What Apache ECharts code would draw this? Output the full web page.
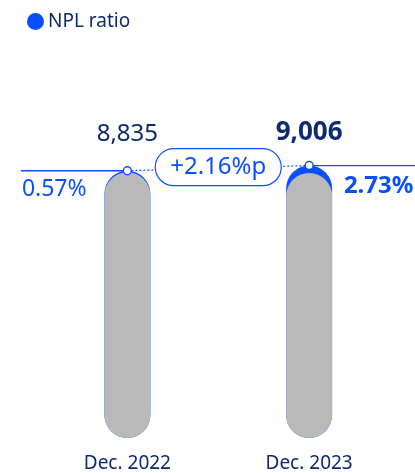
<!DOCTYPE html>
<html><head><meta charset="utf-8">
<script src="https://cdn.jsdelivr.net/npm/echarts@6/dist/echarts.min.js"></script>
<style>html,body{margin:0;padding:0;background:#fff}#c{width:415px;height:473px}</style>
</head><body><div id="c"></div>
<script>
const categories = ['Dec. 2022', 'Dec. 2023'];
const totals = [8835, 9006];
const nplRatio = [0.57, 2.73];
const totalLabels = ['8,835', '9,006'];
const ratioLabels = ['0.57%', '2.73%'];
const changeLabel = '+2.16%p';

const BLUE = '#0a4fff', NAVY = '#0d2a6e', GRAY = '#b9b9b9';
const FONT = '"Noto Sans", sans-serif';
const grayVals = totals.map((t, i) => t * (1 - nplRatio[i] / 100));

const chart = echarts.init(document.getElementById('c'));
chart.setOption({
  animation: false,
  textStyle: { fontFamily: FONT },
  legend: {
    left: 22, top: 7, itemWidth: 15, itemHeight: 15, icon: 'circle',
    textStyle: { fontSize: 19, color: NAVY, fontFamily: FONT },
    data: [{ name: 'NPL ratio', itemStyle: { color: BLUE } }]
  },
  grid: { left: 36.5, right: 15, top: 75, bottom: 35 },
  xAxis: {
    type: 'category', data: categories,
    axisLine: { show: false }, axisTick: { show: false },
    axisLabel: { fontSize: 19, color: NAVY, margin: 16, fontFamily: FONT }
  },
  yAxis: { type: 'value', min: 0, max: 12000, show: false },
  series: [
    {
      type: 'bar', name: 'Total', barWidth: 46,
      itemStyle: { color: BLUE, borderRadius: 23 },
      data: totals.map((v, i) => ({
        value: v,
        label: i === 1 ? { fontWeight: 'bold', fontSize: 26, distance: 20 } : { fontWeight: 'normal', fontSize: 24, distance: 25 }
      })),
      label: {
        show: true, position: 'top', color: NAVY, fontFamily: FONT,
        formatter: p => totalLabels[p.dataIndex]
      }
    },
    {
      type: 'bar', name: 'Gray', barWidth: 46, barGap: '-100%',
      itemStyle: { color: GRAY, borderRadius: 23 },
      data: grayVals
    },
    {
      type: 'line', name: 'NPL ratio', symbol: 'circle', symbolSize: 8,
      itemStyle: { color: '#fff', borderColor: BLUE, borderWidth: 1.5 },
      lineStyle: { color: BLUE, width: 1.2, type: [2, 2] },
      data: totals.map((v, i) => ({
        value: v,
        label: i === 0
          ? { position: 'left', distance: 36, offset: [0, 19], fontWeight: 'normal', fontSize: 23 }
          : { position: 'right', distance: 30, offset: [0, 21], fontWeight: 'bold', fontSize: 24 }
      })),
      label: {
        show: true, color: BLUE, fontFamily: FONT,
        formatter: p => ratioLabels[p.dataIndex]
      },
      z: 5
    }
  ]
});

const p1 = chart.convertToPixel({ seriesIndex: 2 }, [0, totals[0]]);
const p2 = chart.convertToPixel({ seriesIndex: 2 }, [1, totals[1]]);
const mx = (p1[0] + p2[0]) / 2, my = (p1[1] + p2[1]) / 2;
chart.setOption({
  graphic: [
    { type: 'line', z: 1, shape: { x1: 21, y1: p1[1], x2: p1[0], y2: p1[1] }, style: { stroke: BLUE, lineWidth: 1.3 } },
    { type: 'line', z: 1, shape: { x1: p2[0], y1: p2[1], x2: 415, y2: p2[1] }, style: { stroke: BLUE, lineWidth: 1.3 } },
    { type: 'rect', z: 10, shape: { x: mx - 63, y: my - 19.5, width: 126, height: 37, r: 18.5 }, style: { fill: '#fff', stroke: BLUE, lineWidth: 1.2 } },
    { type: 'text', z: 11, x: mx, y: my - 1, style: { text: changeLabel, fill: BLUE, font: '24px "Noto Sans"', align: 'center', verticalAlign: 'middle' } }
  ]
});
</script>
</body></html>
